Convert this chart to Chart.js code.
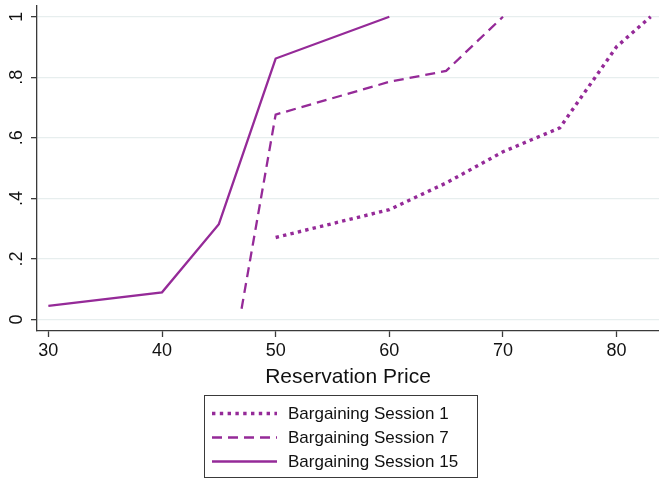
<!DOCTYPE html>
<html>
<head>
<meta charset="utf-8">
<script src="https://cdn.jsdelivr.net/npm/chart.js@4.4.1/dist/chart.umd.min.js"></script>
<style>
  html, body { margin: 0; padding: 0; background: #fff; overflow: hidden; }
  #wrap { width: 659px; height: 479px; position: relative; }
</style>
</head>
<body>
<div id="wrap"><canvas id="chart" width="659" height="479"></canvas></div>
<script>
// Reservation price (x) against cumulative share (y) for three bargaining sessions
const priceSession1 = [50, 60, 65, 70, 75, 80, 83];
const shareSession1 = [0.271, 0.363, 0.451, 0.554, 0.633, 0.901, 1.0];

const priceSession7 = [47, 50, 60, 65, 70];
const shareSession7 = [0.036, 0.677, 0.785, 0.821, 1.0];

const priceSession15 = [30, 40, 45, 50, 60];
const shareSession15 = [0.045, 0.09, 0.315, 0.862, 1.0];

const seriesLabels = ['Bargaining Session 1', 'Bargaining Session 7', 'Bargaining Session 15'];

const xTickValues = [30, 40, 50, 60, 70, 80];
const yTickValues = [0, 0.2, 0.4, 0.6, 0.8, 1];
const yTickLabels = ['0', '.2', '.4', '.6', '.8', '1'];

const LINE_COLOR = '#952a98';
const AXIS_COLOR = '#3a3a3a';
const FONT = "'Liberation Sans', Arial, Helvetica, sans-serif";

function toPoints(xs, ys) {
  return xs.map((x, i) => ({ x: x, y: ys[i] }));
}

// Boxed legend below the axis title, drawn from the datasets' own styles
const boxedLegend = {
  id: 'boxedLegend',
  afterDraw(chart) {
    const ctx = chart.ctx;
    const box = { left: 204.5, top: 395.5, width: 273, height: 82 };
    ctx.save();
    ctx.strokeStyle = AXIS_COLOR;
    ctx.lineWidth = 1;
    ctx.setLineDash([]);
    ctx.strokeRect(box.left, box.top, box.width, box.height);
    const rowY = [413.5, 437.5, 461.5];
    chart.data.datasets.forEach((ds, i) => {
      const y = rowY[i];
      ctx.beginPath();
      ctx.strokeStyle = ds.borderColor;
      ctx.lineWidth = ds.borderWidth;
      ctx.lineCap = 'butt';
      ctx.setLineDash(ds.legendDash || ds.borderDash || []);
      ctx.moveTo(212, y);
      ctx.lineTo(277, y);
      ctx.stroke();
      ctx.setLineDash([]);
      ctx.fillStyle = '#111';
      ctx.font = '17px ' + FONT;
      ctx.textAlign = 'left';
      ctx.textBaseline = 'middle';
      ctx.fillText(ds.label, 288, y + 1);
    });
    ctx.restore();
  }
};

new Chart(document.getElementById('chart'), {
  type: 'line',
  data: {
    datasets: [
      {
        label: seriesLabels[0],
        data: toPoints(priceSession1, shareSession1),
        borderColor: LINE_COLOR,
        borderWidth: 3.4,
        borderDash: [3.4, 4.2],
        legendDash: [3.4, 4.4],
        borderCapStyle: 'butt',
        pointRadius: 0,
        fill: false,
        tension: 0
      },
      {
        label: seriesLabels[1],
        data: toPoints(priceSession7, shareSession7),
        borderColor: LINE_COLOR,
        borderWidth: 2.3,
        borderDash: [10, 6],
        legendDash: [10, 6],
        borderCapStyle: 'butt',
        pointRadius: 0,
        fill: false,
        tension: 0
      },
      {
        label: seriesLabels[2],
        data: toPoints(priceSession15, shareSession15),
        borderColor: LINE_COLOR,
        borderWidth: 2.3,
        pointRadius: 0,
        fill: false,
        tension: 0
      }
    ]
  },
  options: {
    responsive: false,
    animation: false,
    events: [],
    layout: { padding: { left: 0, right: 0, top: 6, bottom: 83 } },
    plugins: {
      legend: { display: false },
      tooltip: { enabled: false }
    },
    scales: {
      x: {
        type: 'linear',
        min: 29,
        max: 83.73,
        afterBuildTicks(scale) {
          scale.ticks = xTickValues.map(v => ({ value: v }));
        },
        afterFit(scale) {
          scale.height = 65;
          scale.paddingLeft = 0;
          scale.paddingRight = 0;
        },
        border: { display: true, color: AXIS_COLOR, width: 1.3 },
        grid: {
          display: true,
          drawOnChartArea: false,
          drawTicks: true,
          tickLength: 6,
          tickColor: AXIS_COLOR,
          tickWidth: 1.3
        },
        ticks: {
          color: '#111',
          font: { family: FONT, size: 18 },
          padding: 3,
          maxRotation: 0,
          autoSkip: false,
          callback: v => String(v)
        },
        title: {
          display: true,
          text: 'Reservation Price',
          color: '#111',
          font: { family: FONT, size: 21 },
          padding: { top: 2, bottom: 6 }
        }
      },
      y: {
        type: 'linear',
        min: -0.0377,
        max: 1.0354,
        afterBuildTicks(scale) {
          scale.ticks = yTickValues.map(v => ({ value: v }));
        },
        afterFit(scale) {
          scale.width = 37;
          scale.paddingTop = 0;
          scale.paddingBottom = 0;
        },
        border: { display: true, color: AXIS_COLOR, width: 1.3 },
        grid: {
          display: true,
          color: '#e7eeee',
          lineWidth: 1.3,
          drawTicks: true,
          tickLength: 6,
          tickColor: AXIS_COLOR,
          tickWidth: 1.3
        },
        ticks: {
          color: '#111',
          font: { family: FONT, size: 18 },
          minRotation: 90,
          maxRotation: 90,
          crossAlign: 'center',
          padding: 6,
          autoSkip: false,
          callback: function (v) {
            const i = yTickValues.findIndex(t => Math.abs(t - v) < 1e-9);
            return i >= 0 ? yTickLabels[i] : '';
          }
        }
      }
    }
  },
  plugins: [boxedLegend]
});
</script>
</body>
</html>
